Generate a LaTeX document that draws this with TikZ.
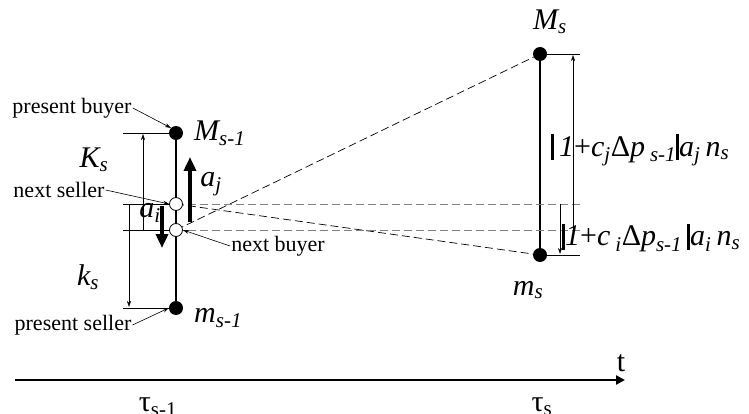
\documentclass[tikz,border=0pt]{standalone}
\usepackage{fontspec}
\setmainfont{Liberation Serif}
\usetikzlibrary{arrows.meta,positioning,calc}
\newcommand{\sub}[1]{\textsubscript{\textit{#1}}}
\newcommand{\vbar}{\rule[-4pt]{3pt}{26pt}}

\begin{document}
\begin{tikzpicture}[x=1pt, y=-1pt, >={Stealth[length=6pt, width=4pt]}]
  \tikzset{dot/.style={circle, fill, inner sep=0pt, minimum size=14pt},
           odot/.style={circle, draw, fill=white, inner sep=0pt,
                        minimum size=13pt, line width=0.8pt},
           txt/.style={font=\fontsize{22}{26}\selectfont, inner sep=1pt},
           sym/.style={font=\fontsize{30}{34}\selectfont\itshape, inner sep=1pt},
           eqn/.style={font=\fontsize{30}{34}\selectfont, inner sep=1pt},
           tick/.style={line width=0.6pt},
           dim/.style={line width=0.5pt, ->},
           big/.style={line width=4pt, -{Triangle[length=14pt, width=12pt]}},
           dline/.style={dashed, dash pattern=on 8pt off 4pt, line width=0.7pt},
           ptr/.style={line width=0.6pt, ->}}
  \useasboundingbox (0,0) rectangle (749,414);
  \clip (0,0) rectangle (749,414);

  % price levels at tau_{s-1} and tau_s
  \node[dot] (Mp) at (176,133) {};
  \node[dot] (mp) at (176,308) {};
  \node[dot] (Mn) at (540,54) {};
  \node[dot] (mn) at (540,255) {};
  \draw[line width=2.6pt] (Mp) -- (mp);
  \draw[line width=2.6pt] (Mn) -- (mn);
  \coordinate (sl) at (176,204);
  \coordinate (bl) at (176,230);

  % projections to the next interval
  \draw[dline] (sl) -- (mn);
  \draw[dline] (bl) -- (Mn);
  \draw[dline, gray] (sl) -- (580,204) coordinate (sr);
  \draw[dline, gray] (bl) -- (580,230) coordinate (br);
  \node[odot] (ns) at (sl) {};
  \node[odot] (nb) at (bl) {};

  % extension lines
  \draw[tick] (123,133) -- (Mp);
  \draw[tick] (123,230) -- (nb);
  \draw[tick] (123,204) -- (ns);
  \draw[tick] (123,308) -- (mp);
  \draw[tick] (Mn) -- (580,54);
  \draw[tick] (mn) -- (580,255);

  % spans
  \draw[dim] (143,230) -- (143,134);
  \draw[dim] (129,204) -- (129,307);
  \draw[dim] (573,230) -- (573,55);
  \draw[dim] (560,204) -- (560,254);
  \draw[big] (190,222) -- (190,157);
  \draw[big] (162,206) -- (162,248);

  % labels
  \node[sym, anchor=west] (lMp) at (193,133) {M\sub{s-1}};
  \node[sym, anchor=west] (lmp) at (193,318) {m\sub{s-1}};
  \node[sym] (lMn) at (550,22) {M\sub{s}};
  \node[sym] (lmn) at (528,290) {m\sub{s}};
  \node[sym] (lK) at (94,160) {K\sub{s}};
  \node[sym] (lk) at (88,277) {k\sub{s}};
  \node[sym] (laj) at (211,184) {a\sub{j}};
  \node[sym] (lai) at (150,213) {a\sub{i}};
  \node[eqn, anchor=west] (eqj) at (550,150)
       {\vbar\,\textit{1}+\textit{c}\sub{j}Δ\textit{p}\,\sub{s-1}\vbar\textit{a}\sub{j}\,\textit{n}\sub{s}};
  \node[eqn, anchor=west] (eqi) at (561,238)
       {\vbar\textit{1}+\textit{c}\,\sub{i}Δ\textit{p}\sub{s-1}\,\vbar\textit{a}\sub{i}\,\textit{n}\sub{s}};

  \node[txt] (pb) at (72,108) {present buyer};
  \node[txt] (nsel) at (59,190) {next seller};
  \node[txt] (nbuy) at (278,246) {next buyer};
  \node[txt] (psel) at (73,325) {present seller};
  \draw[ptr] (pb.east) -- (Mp.north west);
  \draw[ptr] (nsel.east) -- (ns.west);
  \draw[ptr] (nbuy.west) -- (nb.east);
  \draw[ptr] (psel.east) -- (mp.west);

  % time axis
  \draw[line width=2.4pt, -{Triangle[length=9pt, width=9pt]}] (15,380) -- (625,380) coordinate (tend);
  \node[font=\fontsize{30}{34}\selectfont, anchor=base, inner sep=0pt] (lt) at (621,371) {t};
  \node[font=\fontsize{30}{34}\selectfont] (ta) at (158,407) {τ\textsubscript{s-1}};
  \node[font=\fontsize{30}{34}\selectfont] (tb) at (542,407) {τ\textsubscript{s}};
\end{tikzpicture}
\end{document}
